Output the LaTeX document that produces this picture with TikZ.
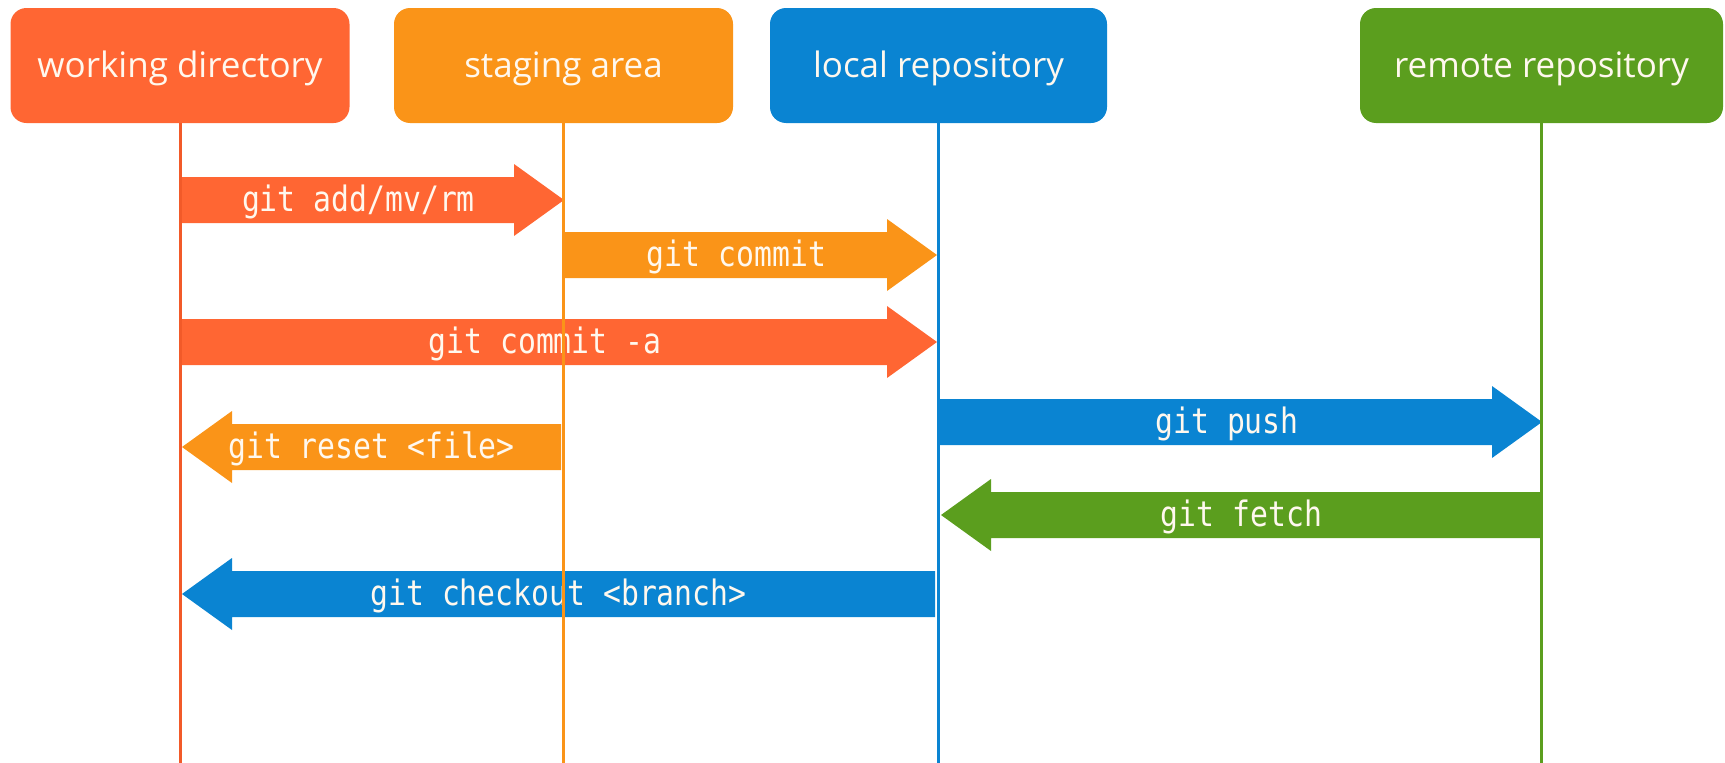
\documentclass[tikz,border=0pt]{standalone}
\usepackage{fontspec}
\setmainfont{Open Sans}
\newfontfamily\codefont[FakeStretch=0.85]{DejaVu Sans Mono}
\usetikzlibrary{calc}
\definecolor{cwd}{HTML}{FF6633}
\definecolor{cwdline}{HTML}{F25A29}
\definecolor{cst}{HTML}{FA9418}
\definecolor{clr}{HTML}{0A84D2}
\definecolor{crr}{HTML}{5B9E1E}
\definecolor{txt}{HTML}{FFF8EE}
\tikzset{
  box/.style={fill=#1, rounded corners=16pt, minimum height=115pt, text=txt,
    font=\fontsize{35}{40}\selectfont, inner sep=0pt, text height=25pt, text depth=2pt},
  lifeline/.style={draw=#1, line width=3pt},
  lbl/.style={text=txt, font=\codefont\fontsize{35}{40}\selectfont, inner sep=0pt},
}
\newcommand\gitarrow[5]{% from, to, dir, colour, label
  \fill[#4] ($(#1)+(0,-23)$) -- ($(#2)+({-50*(#3)},-23)$) -- ($(#2)+({-50*(#3)},-36)$)
    -- (#2) -- ($(#2)+({-50*(#3)},36)$) -- ($(#2)+({-50*(#3)},23)$) -- ($(#1)+(0,23)$) -- cycle;
  \node[lbl] at ($(#1)!0.5!(#2)+({-7*(#3)-7},2)$) {#5};
}
\begin{document}
\begin{tikzpicture}[x=1pt,y=-1pt]
\useasboundingbox (0,0) rectangle (1725,763);
% boxes
\node[box=cwd, minimum width=339pt] (wd) at (180,65.5) {working directory};
\node[box=cst, minimum width=339pt] (sa) at (563.5,65.5) {staging area};
\node[box=clr, minimum width=337pt] (lr) at (938.5,65.5) {local repository};
\node[box=crr, minimum width=363pt] (rr) at (1541.5,65.5) {remote repository};
% arrow end points on lifelines
\coordinate (a1s) at (181,200);  \coordinate (a1e) at (564,200);
\coordinate (a2s) at (564,255);  \coordinate (a2e) at (937,255);
\coordinate (a3s) at (181,342);  \coordinate (a3e) at (937,342);
\coordinate (a4s) at (940,422);  \coordinate (a4e) at (1542,422);
\coordinate (a5s) at (561,447);  \coordinate (a5e) at (182,447);
\coordinate (a6s) at (1542,515); \coordinate (a6e) at (941,515);
\coordinate (a7s) at (935,594);  \coordinate (a7e) at (182,594);
\gitarrow{a1s}{a1e}{1}{cwd}{git add/mv/rm}
\gitarrow{a2s}{a2e}{1}{cst}{git commit}
\gitarrow{a3s}{a3e}{1}{cwd}{git commit -a}
\gitarrow{a4s}{a4e}{1}{clr}{git push}
\gitarrow{a5s}{a5e}{-1}{cst}{git reset <file>}
\gitarrow{a6s}{a6e}{-1}{crr}{git fetch}
\gitarrow{a7s}{a7e}{-1}{clr}{git checkout <branch>}
% lifelines
\coordinate (wdb) at (180,763);
\coordinate (sab) at (563.5,763);
\coordinate (lrb) at (940,763);
\coordinate (rrb) at (1542,763);
\draw[lifeline=cwdline] (wd.south) -- (wdb);
\draw[lifeline=cst] (sa.south) -- (sab);
\draw[lifeline=clr] (lr.south) -- (lr.south |- lrb);
\draw[lifeline=crr] (rr.south) -- (rr.south |- rrb);
\end{tikzpicture}
\end{document}
